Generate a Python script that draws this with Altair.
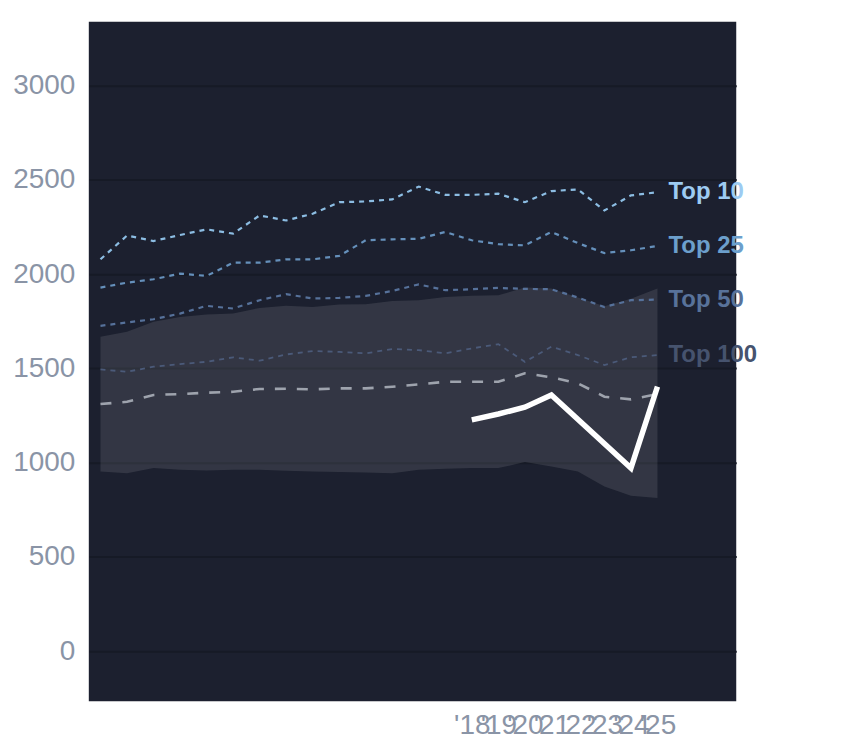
import altair as alt
import pandas as pd

years = [2004, 2005, 2006, 2007, 2008, 2009, 2010, 2011, 2012, 2013, 2014,
         2015, 2016, 2017, 2018, 2019, 2020, 2021, 2022, 2023, 2024, 2025]
top10 = [2079, 2205, 2176, 2208, 2238, 2215, 2312, 2285, 2321, 2382, 2386,
         2397, 2465, 2421, 2421, 2427, 2382, 2441, 2450, 2338, 2418, 2435]
top25 = [1929, 1955, 1973, 2003, 1991, 2061, 2061, 2079, 2079, 2097, 2180,
         2185, 2188, 2224, 2180, 2159, 2153, 2224, 2165, 2112, 2127, 2150]
top50 = [1726, 1744, 1761, 1791, 1832, 1818, 1862, 1894, 1871, 1874, 1885,
         1911, 1946, 1915, 1920, 1927, 1922, 1920, 1876, 1826, 1862, 1865]
top100 = [1495, 1482, 1509, 1523, 1535, 1559, 1541, 1574, 1592, 1588, 1580,
          1603, 1597, 1580, 1606, 1629, 1535, 1615, 1571, 1518, 1559, 1571]
median = [1311, 1323, 1359, 1364, 1371, 1376, 1391, 1392, 1389, 1394, 1394,
          1403, 1415, 1429, 1429, 1429, 1474, 1453, 1421, 1350, 1336, 1364]
band_hi = [1668, 1694, 1747, 1773, 1786, 1791, 1821, 1832, 1826, 1839, 1841,
           1858, 1862, 1879, 1885, 1888, 1929, 1924, 1876, 1830, 1870, 1924]
band_lo = [953, 944, 971, 962, 958, 962, 962, 957, 953, 950, 948,
           944, 962, 967, 971, 971, 1003, 980, 953, 874, 824, 812]

hl_years = [2018, 2019, 2020, 2021, 2024, 2025]
hl_values = [1227, 1258, 1294, 1359, 971, 1403]

tick_years = [2018, 2019, 2020, 2021, 2022, 2023, 2024, 2025]
y_ticks = [0, 500, 1000, 1500, 2000, 2500, 3000]

series_names = ["Top 10", "Top 25", "Top 50", "Top 100"]
series_vals = [top10, top25, top50, top100]
line_colors = ["#8cbde3", "#6590bb", "#56719a", "#4b5a79"]
text_colors = ["#9dcbf2", "#6c9fcc", "#58729a", "#46536e"]
line_widths = [2.2, 2.2, 2.2, 1.8]

FONT = "Liberation Sans"

xscale = alt.Scale(domain=[2003.56, 2027.97], nice=False, zero=False)
yscale = alt.Scale(domain=[-266, 3339], nice=False, zero=False)

xaxis = alt.Axis(values=tick_years, format="d",
                 labelExpr="\"'\" + substring(datum.label, 2)",
                 grid=False, ticks=False, domain=False, labelPadding=10,
                 labelFontSize=28, labelColor="#8a94a6", labelFont=FONT,
                 title=None, labelOverlap=False, labelFlush=False)
yaxis = alt.Axis(values=y_ticks, format="d", grid=True, gridColor="#161a26",
                 gridWidth=2, ticks=False, domain=False, labelPadding=14,
                 labelFontSize=28, labelColor="#8a94a6", labelFont=FONT,
                 title=None)

band_df = pd.DataFrame({"year": years, "lo": band_lo, "hi": band_hi})
band = alt.Chart(band_df).mark_area(color="white", opacity=0.1).encode(
    x=alt.X("year:Q", scale=xscale, axis=xaxis),
    y=alt.Y("lo:Q", scale=yscale, axis=yaxis),
    y2="hi:Q",
)

layers = [band]

med_df = pd.DataFrame({"year": years, "v": median})
layers.append(alt.Chart(med_df).mark_line(
    color="#9ea3ad", strokeWidth=2.6, strokeDash=[11, 11]).encode(
    x=alt.X("year:Q", scale=xscale), y=alt.Y("v:Q", scale=yscale)))

for name, vals, lc, lw in zip(series_names, series_vals, line_colors, line_widths):
    df = pd.DataFrame({"year": years, "v": vals})
    layers.append(alt.Chart(df).mark_line(
        color=lc, strokeWidth=lw, strokeDash=[5, 5]).encode(
        x=alt.X("year:Q", scale=xscale), y=alt.Y("v:Q", scale=yscale)))

hl_df = pd.DataFrame({"year": hl_years, "v": hl_values})
layers.append(alt.Chart(hl_df).mark_line(color="white", strokeWidth=5.5).encode(
    x=alt.X("year:Q", scale=xscale), y=alt.Y("v:Q", scale=yscale)))

for name, vals, tc in zip(series_names, series_vals, text_colors):
    tdf = pd.DataFrame({"year": [years[-1]], "v": [vals[-1]], "label": [name]})
    layers.append(alt.Chart(tdf).mark_text(
        align="left", baseline="middle", dx=11, fontSize=24,
        fontWeight="bold", font=FONT, color=tc).encode(
        x=alt.X("year:Q", scale=xscale), y=alt.Y("v:Q", scale=yscale),
        text="label:N"))

chart = alt.layer(*layers).properties(
    width=649, height=681,
    autosize=alt.AutoSizeParams(type="none"),
    padding={"left": 81, "top": 13, "right": 100, "bottom": 45},
    background="white",
).configure_view(stroke=None, fill="#1c202f")

chart.save("out.html", embed_options={"renderer": "svg", "actions": False})
